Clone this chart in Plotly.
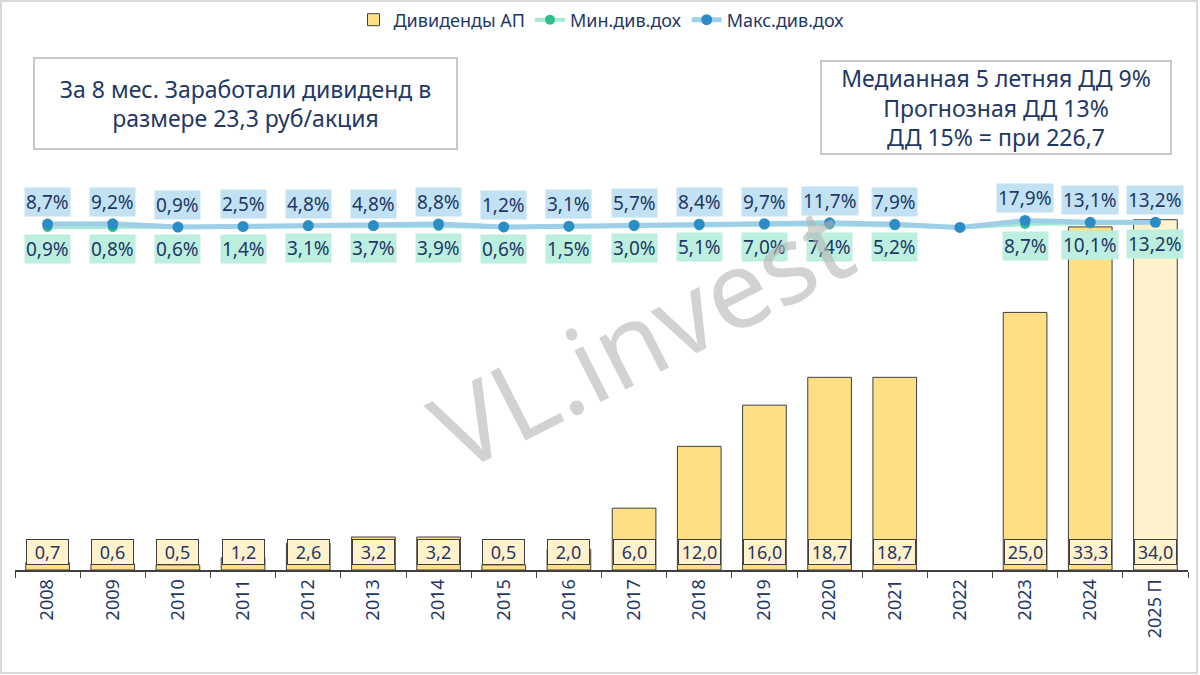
import plotly.graph_objects as go

years = ["2008", "2009", "2010", "2011", "2012", "2013", "2014", "2015", "2016",
         "2017", "2018", "2019", "2020", "2021", "2022", "2023", "2024", "2025 П"]
dividends = [0.7, 0.6, 0.5, 1.2, 2.6, 3.2, 3.2, 0.5, 2.0, 6.0, 12.0, 16.0, 18.7, 18.7,
             None, 25.0, 33.3, 34.0]
min_yield = [0.9, 0.8, 0.6, 1.4, 3.1, 3.7, 3.9, 0.6, 1.5, 3.0, 5.1, 7.0, 7.4, 5.2,
             0.0, 8.7, 10.1, 13.2]
max_yield = [8.7, 9.2, 0.9, 2.5, 4.8, 4.8, 8.8, 1.2, 3.1, 5.7, 8.4, 9.7, 11.7, 7.9,
             0.0, 17.9, 13.1, 13.2]
show_yield_labels = [True] * 14 + [False] + [True] * 3

NAVY = "#1F3864"
FONT = "Noto Sans"

bar_colors = ["#FFDF85"] * 17 + ["#FFF2CC"]

fig = go.Figure()
fig.add_trace(go.Bar(
    x=years, y=dividends, name="Дивиденды АП",
    marker=dict(color=bar_colors, line=dict(color="#3F3F3F", width=1)),
    width=0.67,
))
fig.add_trace(go.Scatter(
    x=years, y=min_yield, name="Мин.див.дох", yaxis="y2", mode="lines+markers",
    line=dict(color="#A6E9D6", width=4), marker=dict(color="#2DBE8E", size=10),
))
fig.add_trace(go.Scatter(
    x=years, y=max_yield, name="Макс.див.дох", yaxis="y2", mode="lines+markers",
    line=dict(color="#9DD0E8", width=5), marker=dict(color="#2C8DC6", size=11),
))

annotations = []
def fmt(v, pct=False):
    s = f"{v:.1f}".replace(".", ",")
    return s + "%" if pct else s

for i, d in enumerate(dividends):
    if d is None:
        continue
    annotations.append(dict(
        x=i, y=0, xref="x", yref="y", text=fmt(d), showarrow=False,
        yanchor="bottom", yshift=5, font=dict(family=FONT, size=18, color=NAVY),
        bgcolor="#FFF2CC", bordercolor="#3F3F3F", borderwidth=1, borderpad=0,
        width=41,
    ))

for i, (mx, mn, show) in enumerate(zip(max_yield, min_yield, show_yield_labels)):
    if not show:
        continue
    annotations.append(dict(
        x=i, y=mx, xref="x", yref="y2", text=fmt(mx, True), showarrow=False,
        yanchor="middle", yshift=22, font=dict(family=FONT, size=19, color=NAVY),
        bgcolor="#C2E2F4", borderpad=1,
    ))
    annotations.append(dict(
        x=i, y=mn, xref="x", yref="y2", text=fmt(mn, True), showarrow=False,
        yanchor="middle", yshift=-22, font=dict(family=FONT, size=19, color=NAVY),
        bgcolor="#BCEFDF", borderpad=1,
    ))

annotations.append(dict(
    x=(33 - 15) / 1173, y=(570 - 57) / 510, xref="paper", yref="paper",
    xanchor="left", yanchor="top",
    text="За 8 мес. Заработали дивиденд в<br>размере 23,3 руб/акция", showarrow=False,
    font=dict(family=FONT, size=23, color=NAVY), align="center",
    bordercolor="#C8C8C8", borderwidth=2, borderpad=0, bgcolor="white",
    width=421, height=89,
))
annotations.append(dict(
    x=(820 - 15) / 1173, y=(570 - 60) / 510, xref="paper", yref="paper",
    xanchor="left", yanchor="top",
    text="Медианная 5 летняя ДД 9%<br>Прогнозная ДД 13%<br>ДД 15% = при 226,7",
    showarrow=False, font=dict(family=FONT, size=23, color=NAVY), align="center",
    bordercolor="#C8C8C8", borderwidth=2, borderpad=0, bgcolor="white",
    width=348, height=91,
))
annotations.append(dict(
    x=(640 - 15) / 1173, y=(570 - 335) / 510, xref="paper", yref="paper",
    text="VL.invest", showarrow=False,
    textangle=-27, font=dict(family=FONT, size=108, color="rgba(180,180,180,0.6)"),
))

fig.update_layout(
    width=1200, height=675,
    margin=dict(l=15, r=12, t=60, b=105, autoexpand=False),
    paper_bgcolor="white", plot_bgcolor="white",
    font=dict(family=FONT, color=NAVY),
    showlegend=True,
    legend=dict(orientation="h", x=0.5, xanchor="center", y=(570 - 20) / 510,
                yanchor="middle", bgcolor="rgba(0,0,0,0)",
                font=dict(family=FONT, size=18, color=NAVY)),
    xaxis=dict(
        type="category", range=[-0.5, 17.5], showline=True, linecolor="#404040",
        linewidth=2, ticks="outside", ticklen=6, tickcolor="#404040",
        tickson="boundaries", tickangle=-90,
        tickfont=dict(family=FONT, size=18, color=NAVY), showgrid=False,
    ),
    yaxis=dict(range=[0, 49.5], visible=False, showgrid=False),
    yaxis2=dict(range=[-880, 430], overlaying="y", visible=False, showgrid=False),
    annotations=annotations,
    shapes=[dict(type="rect", xref="paper", yref="paper", x0=-14 / 1173, x1=1 + 9 / 1173,
                 y0=-103 / 510, y1=569 / 510, line=dict(color="#D9D9D9", width=2),
                 layer="below")],
)

fig.write_html("out.html")
